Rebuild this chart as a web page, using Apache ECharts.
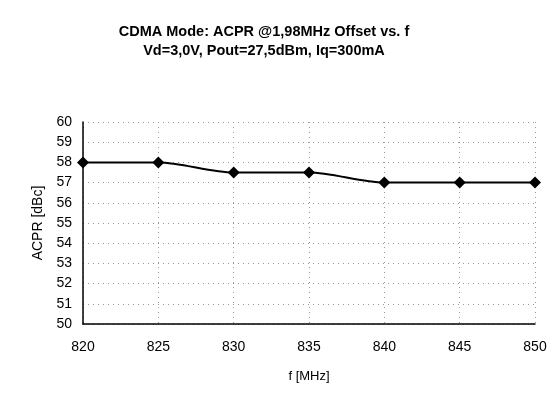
<!DOCTYPE html>
<html>
<head>
<meta charset="utf-8">
<script src="https://cdn.jsdelivr.net/npm/echarts@6/dist/echarts.min.js"></script>
<style>html,body{margin:0;padding:0;background:#fff;}#c{width:556px;height:401px;}</style>
</head>
<body>
<div id="c"></div>
<script>
var titleLines = ['CDMA Mode: ACPR @1,98MHz Offset vs. f', 'Vd=3,0V, Pout=27,5dBm, Iq=300mA'];
var freqs = [820, 825, 830, 835, 840, 845, 850];
var acpr = [58, 58, 57.5, 57.5, 57, 57, 57];
var xName = 'f [MHz]';
var yName = 'ACPR [dBc]';

var chart = echarts.init(document.getElementById('c'), null, {renderer: 'canvas'});
var font = 'Liberation Sans, Arial, sans-serif';
chart.setOption({
  animation: false,
  backgroundColor: '#fff',
  title: {
    text: titleLines.join('\n'),
    left: 259, top: 17, textAlign: 'center',
    textStyle: {fontFamily: font, fontSize: 14.5, fontWeight: 'bold', color: '#000', lineHeight: 19}
  },
  grid: {left: 83, right: 21, top: 122, bottom: 77},
  xAxis: {
    type: 'value', min: 820, max: 850, interval: 5,
    name: xName, nameLocation: 'middle', nameGap: 46,
    nameTextStyle: {fontFamily: font, fontSize: 13, color: '#000'},
    axisLine: {show: true, onZero: false, lineStyle: {color: '#000', width: 1.5}},
    axisTick: {show: false},
    axisLabel: {fontFamily: font, fontSize: 14, color: '#000', margin: 16},
    splitLine: {show: true, lineStyle: {color: '#999', type: [1, 4], width: 1}}
  },
  yAxis: {
    type: 'value', min: 50, max: 60, interval: 1,
    name: yName, nameLocation: 'middle', nameGap: 36,
    nameTextStyle: {fontFamily: font, fontSize: 14, color: '#000'},
    axisLine: {show: true, onZero: false, lineStyle: {color: '#000', width: 1.5}},
    axisTick: {show: false},
    axisLabel: {fontFamily: font, fontSize: 14, color: '#000', margin: 11},
    splitLine: {show: true, lineStyle: {color: '#999', type: [1, 4], width: 1}}
  },
  series: [{
    type: 'line',
    data: freqs.map(function (f, i) { return [f, acpr[i]]; }),
    smooth: 0.3,
    symbol: 'diamond', symbolSize: 12,
    itemStyle: {color: '#000'},
    lineStyle: {color: '#000', width: 2}
  }]
});
</script>
</body>
</html>
